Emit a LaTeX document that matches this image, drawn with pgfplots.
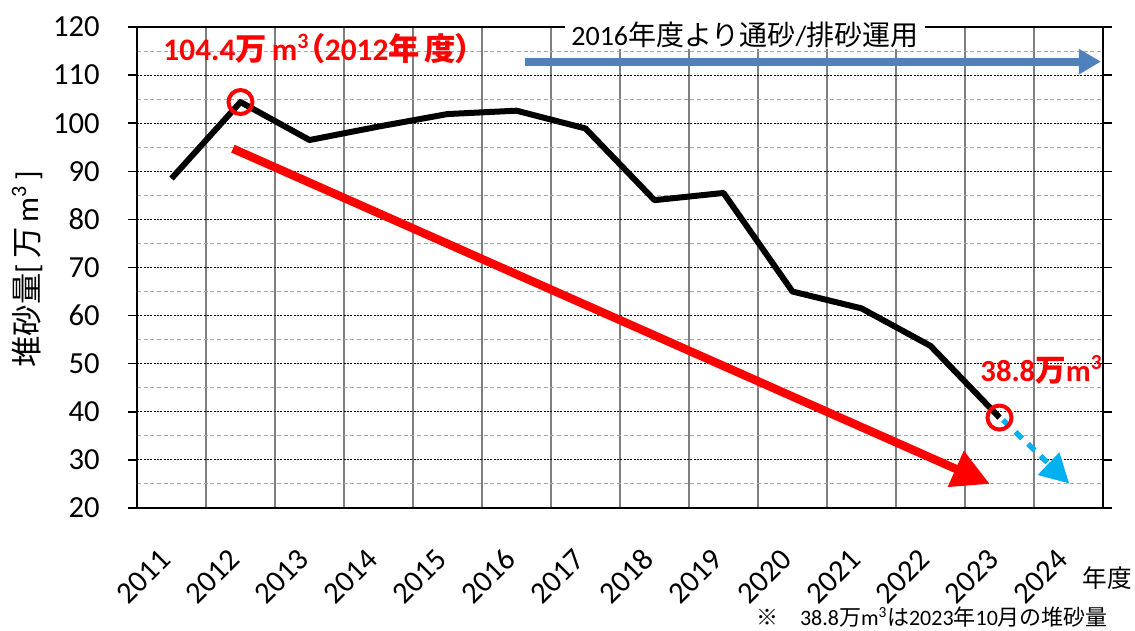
\documentclass[border=0pt]{standalone}
\usepackage{fontspec}
\setmainfont{Carlito}
\newfontfamily\jp{Noto Sans CJK JP}
\newfontfamily\jpp[RawFeature=+palt]{Noto Sans CJK JP}
\usepackage{pgfplots}
\pgfplotsset{compat=1.18}
\usetikzlibrary{arrows.meta}
\definecolor{xlblue}{HTML}{4F81BD}
\definecolor{xlcyan}{HTML}{00B0F0}
\definecolor{vgrid}{HTML}{7F7F7F}
\definecolor{mgrid}{HTML}{A6A6A6}
\begin{document}
\begin{tikzpicture}[x=0.75pt,y=0.75pt]
\useasboundingbox (0,0) rectangle (1135,631);
\begin{axis}[
  at={(102.75pt,92.25pt)}, anchor=south west,
  scale only axis, width=724.5pt, height=360.75pt,
  xmin=-0.5, xmax=13.5, ymin=20, ymax=120,
  clip=false,
  axis line style={black, line width=1.5pt},
  tick label style={font=\fontsize{23}{28}\selectfont},
  /pgf/number format/assume math mode=true,
  xtick={-0.5,0.5,...,13.5}, xticklabels={},
  xtick style={draw=none},
  xmajorgrids,
  major grid style={draw=vgrid, solid, line width=1.3pt},
  ytick={20,30,...,120},
  yticklabel={\pgfmathprintnumber{\tick}\hspace*{18pt}},
  ytick style={black, line width=1.1pt},
  tick align=outside,
  major tick length=6.4pt,
  minor tick length=0pt,
  minor ytick={25,35,...,115},
  yminorgrids,
  minor grid style={draw=mgrid, dash pattern=on 3pt off 2pt, line width=0.75pt},
  extra y ticks={30,40,...,110},
  extra y tick labels={},
  extra y tick style={grid=major, major grid style={draw=black, dash pattern=on 1.5pt off 1pt, line width=0.75pt}},
  extra x ticks={0,1,...,13},
  extra x tick labels={2011,2012,2013,2014,2015,2016,2017,2018,2019,2020,2021,2022,2023,2024},
  extra x tick style={grid=none, xticklabel style={xshift=-2pt, yshift=-26pt, rotate=45, anchor=east}},
]
% blue operation arrow
\addplot[xlblue, line width=6pt, -{Triangle[length=16.5pt,width=18pt]}] coordinates {(5.12,112.8) (13.47,112.8)};
% red trend arrow
\addplot[red, line width=6.3pt, -{Triangle[length=28pt,width=28pt]}] coordinates {(0.89,94.7) (11.86,25.0)};
% data
\addplot[black, line width=4.5pt, line join=round] coordinates {
(0,88.5) (1,104.4) (2,96.5) (3,99.3) (4,101.9) (5,102.6) (6,98.9)
(7,84.0) (8,85.5) (9,65.0) (10,61.5) (11,53.7) (12,38.8)};
% cyan dashed arrow
\addplot[xlcyan, line width=4pt, dash pattern=on 7pt off 6pt, -{Triangle[length=21.5pt,width=22.5pt]}] coordinates {(12.05,38.3) (13.01,25.1)};
% red circles
\addplot[only marks, red, line width=3pt, mark=o, mark size=9pt, mark options={draw=red, line width=3pt, solid}] coordinates {(1,104.4) (12,38.8)};
% texts
\node[anchor=west, text=red, font=\fontsize{23.5}{28}\selectfont\bfseries, inner sep=0pt] at (axis cs:-0.12,115.6)
  {104.4{\jpp 万}\,m\textsuperscript{3}{\jpp （}2012{\jpp 年\,度）}};
\node[anchor=west, text=red, font=\fontsize{23}{28}\selectfont\bfseries, inner sep=0pt] at (axis cs:11.72,48.8)
  {38.8{\jp 万}m\textsuperscript{3}};
\node[fill=white, inner xsep=5pt, inner ysep=1pt, font=\fontsize{21}{25}\selectfont] at (axis cs:8.31,118.4)
  {2016{\jp 年度より通砂}/{\jp 排砂運用}};
\end{axis}
\node[rotate=90, font=\fontsize{23.5}{27}\selectfont] at (27,362) {{\jp 堆砂量}[\,{\jp 万}\,m\textsuperscript{3}\,]};
\node[font=\fontsize{18.5}{22}\selectfont] at (1107,53) {\jp 年度};
\node[font=\fontsize{16.5}{19}\selectfont, inner sep=0pt, anchor=base] at (932,5) {{\jp ※　}38.8{\jp 万}m\textsuperscript{3}{\jp は}2023{\jp 年}10{\jp 月の堆砂量}};
\end{tikzpicture}
\end{document}
